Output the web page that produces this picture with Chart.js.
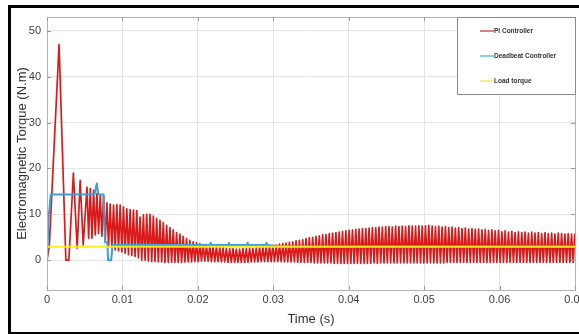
<!DOCTYPE html>
<html>
<head>
<meta charset="utf-8">
<script src="https://cdn.jsdelivr.net/npm/chart.js@4"></script>
<style>
  html, body { margin: 0; padding: 0; background: #fff; overflow: hidden; }
  #wrap { position: absolute; left: 0; top: 0; width: 600px; height: 334px; }
  #frame { position: absolute; left: 8px; top: 5px; width: 620px; height: 324px;
           border: 3px solid #000; pointer-events: none; }
</style>
</head>
<body>
<div id="wrap"><canvas id="torqueChart" width="600" height="334"></canvas></div>
<div id="frame"></div>
<script>
const seriesNames = ['PI Controller', 'Deadbeat Controller', 'Load torque']
const xTicks = [0, 0.01, 0.02, 0.03, 0.04, 0.05, 0.06, 0.07]
const yTicks = [0, 10, 20, 30, 40, 50]

// PI controller: start-up transient, read point by point
const piStartTime = [0, 0.0003, 0.0016, 0.0025, 0.0029, 0.0035, 0.0040, 0.0044, 0.0048]
const piStartTorque = [0, 3, 47, 0, 0, 19, 2.6, 17.4, 3.3]

// PI controller: oscillation peaks / troughs, one value every half period
const piOscStart = 0.0053
const piOscStep = 0.00022
const piOscTorque = [
    15.9, 4.8, 15.6, 4.8, 15.2, 5.5, 14.5, 5.8, 14.2, 5.2,
    14.0, 4.2, 12.5, 3.0, 12.2, 2.5, 12.0, 2.2, 12.1, 2.0,
    12.0, 1.8, 11.6, 1.5, 11.2, 1.2, 11.0, 1.0, 10.9, 0.8,
    10.8, 0.5, 9.4, 0.0, 9.9, 0.0, 10.0, -0.2, 10.0, -0.3,
    9.6, -0.3, 9.1, -0.4, 8.7, -0.4, 8.2, -0.5, 7.6, -0.5,
    7.1, -0.5, 6.6, -0.5, 6.0, -0.5, 5.7, -0.5, 5.2, -0.4,
    4.7, -0.4, 4.3, -0.4, 4.0, -0.3, 3.8, -0.3, 3.6, -0.2,
    3.4, -0.2, 3.2, -0.2, 3.1, -0.3, 3.0, -0.3, 2.9, -0.3,
    2.8, -0.4, 2.7, -0.4, 2.6, -0.5, 2.5, -0.5, 2.5, -0.5,
    2.4, -0.5, 2.4, -0.5, 2.5, -0.5, 2.5, -0.5, 2.6, -0.4,
    2.6, -0.4, 2.7, -0.4, 2.8, -0.3, 2.9, -0.3, 3.0, -0.3,
    3.1, -0.3, 3.2, -0.3, 3.3, -0.3, 3.5, -0.3, 3.6, -0.4,
    3.7, -0.4, 3.9, -0.4, 4.0, -0.4, 4.2, -0.5, 4.3, -0.5,
    4.5, -0.5, 4.7, -0.5, 4.9, -0.5, 5.0, -0.6, 5.2, -0.6,
    5.3, -0.6, 5.5, -0.6, 5.6, -0.6, 5.8, -0.6, 5.9, -0.7,
    6.0, -0.7, 6.1, -0.7, 6.3, -0.7, 6.4, -0.7, 6.5, -0.7,
    6.6, -0.7, 6.7, -0.7, 6.8, -0.7, 6.9, -0.7, 6.9, -0.7,
    7.0, -0.7, 7.1, -0.6, 7.1, -0.7, 7.2, -0.6, 7.2, -0.6,
    7.3, -0.6, 7.3, -0.6, 7.2, -0.6, 7.4, -0.6, 7.3, -0.6,
    7.4, -0.6, 7.3, -0.6, 7.5, -0.6, 7.4, -0.6, 7.4, -0.6,
    7.5, -0.6, 7.4, -0.6, 7.5, -0.6, 7.6, -0.6, 7.4, -0.6,
    7.3, -0.6, 7.4, -0.6, 7.2, -0.6, 7.3, -0.5, 7.1, -0.5,
    7.2, -0.5, 7.0, -0.5, 7.1, -0.5, 6.9, -0.5, 7.0, -0.5,
    6.8, -0.5, 6.9, -0.5, 6.7, -0.5, 6.8, -0.5, 6.6, -0.5,
    6.7, -0.5, 6.5, -0.5, 6.6, -0.5, 6.4, -0.5, 6.5, -0.5,
    6.2, -0.5, 6.4, -0.5, 6.1, -0.5, 6.3, -0.5, 6.0, -0.5,
    6.2, -0.5, 6.0, -0.5, 6.1, -0.5, 5.9, -0.5, 6.1, -0.5,
    5.9, -0.5, 6.0, -0.5, 5.8, -0.5, 6.0, -0.5, 5.8, -0.5,
    5.9, -0.5, 5.7, -0.5, 5.9, -0.5, 5.8, -0.5, 5.7, -0.5,
    5.8, -0.5, 5.7, -0.5, 5.8
]

const deadbeatTime = [0, 0.0002, 0.0005, 0.0063, 0.0066, 0.0068, 0.0075, 0.0077, 0.0080, 0.0081, 0.0085, 0.0087,
    0.0216, 0.0217, 0.0218, 0.0240, 0.0241, 0.0242, 0.0265, 0.0266, 0.0267, 0.0290, 0.0291, 0.0292, 0.0310, 0.07]
const deadbeatTorque = [0, 9, 14.3, 14.3, 16.7, 14.3, 14.3, 3.9, 3.9, 0, 0, 3.3,
    3.3, 3.8, 3.3, 3.3, 3.8, 3.3, 3.3, 3.8, 3.3, 3.3, 3.8, 3.3, 3.0, 3.0]

const loadTime = [0, 0.07]
const loadTorque = [2.9, 2.9]

function toPoints(xs, ys) {
    return xs.map((x, i) => ({ x: x, y: ys[i] }))
}

let piPoints = toPoints(piStartTime, piStartTorque)
piOscTorque.forEach((v, i) => {
    piPoints.push({ x: piOscStart + i * piOscStep, y: v })
})

const legendColors = ['#d9534f', '#5bc0de', '#f1ea7a']

const boxAndLegend = {
    id: 'boxAndLegend',
    afterDraw(chart) {
        const ctx = chart.ctx
        const a = chart.chartArea
        const xs = chart.scales.x
        const ys = chart.scales.y
        ctx.save()
        ctx.strokeStyle = '#b4b4b4'
        ctx.lineWidth = 1
        ctx.strokeRect(a.left + 0.5, a.top + 0.5, a.right - a.left, a.bottom - a.top)

        // small inward ticks, matlab style
        ctx.strokeStyle = '#9a9a9a'
        ctx.beginPath()
        xTicks.forEach(v => {
            const px = Math.round(xs.getPixelForValue(v)) + 0.5
            ctx.moveTo(px, a.bottom); ctx.lineTo(px, a.bottom - 4)
            ctx.moveTo(px, a.top); ctx.lineTo(px, a.top + 4)
        })
        yTicks.forEach(v => {
            const py = Math.round(ys.getPixelForValue(v)) + 0.5
            ctx.moveTo(a.left, py); ctx.lineTo(a.left + 4, py)
            ctx.moveTo(a.right, py); ctx.lineTo(a.right - 4, py)
        })
        ctx.stroke()

        // legend box in the top-right corner
        const w = 118, h = 77
        const lx = a.right - w, ly = a.top
        ctx.fillStyle = '#fff'
        ctx.fillRect(lx, ly, w, h)
        ctx.strokeStyle = '#8a8a8a'
        ctx.strokeRect(lx + 0.5, ly + 0.5, w, h)
        ctx.font = 'bold 6.5px "Liberation Sans", Arial, sans-serif'
        ctx.textBaseline = 'middle'
        seriesNames.forEach((name, i) => {
            const y = ly + 14 + i * 25
            ctx.strokeStyle = legendColors[i]
            ctx.lineWidth = 1.5
            ctx.beginPath()
            ctx.moveTo(lx + 23, y)
            ctx.lineTo(lx + 37, y)
            ctx.stroke()
            ctx.fillStyle = '#333'
            ctx.fillText(name, lx + 37, y)
        })
        ctx.restore()
    }
}

const ctx = document.getElementById('torqueChart')
const torqueChart = new Chart(ctx, {
    type: 'line',
    data: {
        datasets: [{
            label: seriesNames[0],
            data: piPoints,
            borderColor: '#da1a1a',
            borderWidth: 1.7,
            borderJoinStyle: 'round',
            order: 3,
        }, {
            label: seriesNames[1],
            data: toPoints(deadbeatTime, deadbeatTorque),
            borderColor: '#3a9fd6',
            borderWidth: 2,
            borderJoinStyle: 'round',
            order: 2,
        }, {
            label: seriesNames[2],
            data: toPoints(loadTime, loadTorque),
            borderColor: 'rgba(248, 240, 20, 0.92)',
            borderWidth: 2,
            order: 1,
        }],
    },
    options: {
        responsive: false,
        animation: false,
        parsing: false,
        normalized: true,
        elements: {
            point: { radius: 0 },
            line: { tension: 0 },
        },
        layout: {
            padding: { top: 17, right: 25, left: 0, bottom: 0 },
        },
        plugins: {
            legend: { display: false },
            tooltip: { enabled: false },
        },
        scales: {
            x: {
                type: 'linear',
                min: 0,
                max: 0.07,
                afterBuildTicks: (scale) => { scale.ticks = xTicks.map(v => ({ value: v })) },
                afterFit: (scale) => { scale.height = 44 },
                ticks: {
                    color: '#404040',
                    font: { family: '"Liberation Sans", Arial, sans-serif', size: 11 },
                    padding: 3,
                    maxRotation: 0,
                    callback: (v) => String(Math.round(v * 100) / 100),
                },
                grid: { color: '#e4e4e4', tickLength: 0, drawTicks: false },
                border: { color: '#b4b4b4' },
                title: {
                    display: true,
                    text: 'Time (s)',
                    color: '#333',
                    font: { family: '"Liberation Sans", Arial, sans-serif', size: 13 },
                    padding: { top: 0, bottom: 7 },
                },
            },
            y: {
                type: 'linear',
                min: -6.5,
                max: 53,
                afterBuildTicks: (scale) => { scale.ticks = yTicks.map(v => ({ value: v })) },
                afterFit: (scale) => { scale.width = 47 },
                ticks: {
                    color: '#404040',
                    font: { family: '"Liberation Sans", Arial, sans-serif', size: 11 },
                    padding: 6,
                },
                grid: { color: '#e4e4e4', tickLength: 0, drawTicks: false },
                border: { color: '#b4b4b4' },
                title: {
                    display: true,
                    text: 'Electromagnetic Torque (N.m)',
                    color: '#333',
                    font: { family: '"Liberation Sans", Arial, sans-serif', size: 13 },
                    padding: { top: 15, bottom: 0 },
                },
            },
        },
    },
    plugins: [boxAndLegend],
})
</script>
</body>
</html>
